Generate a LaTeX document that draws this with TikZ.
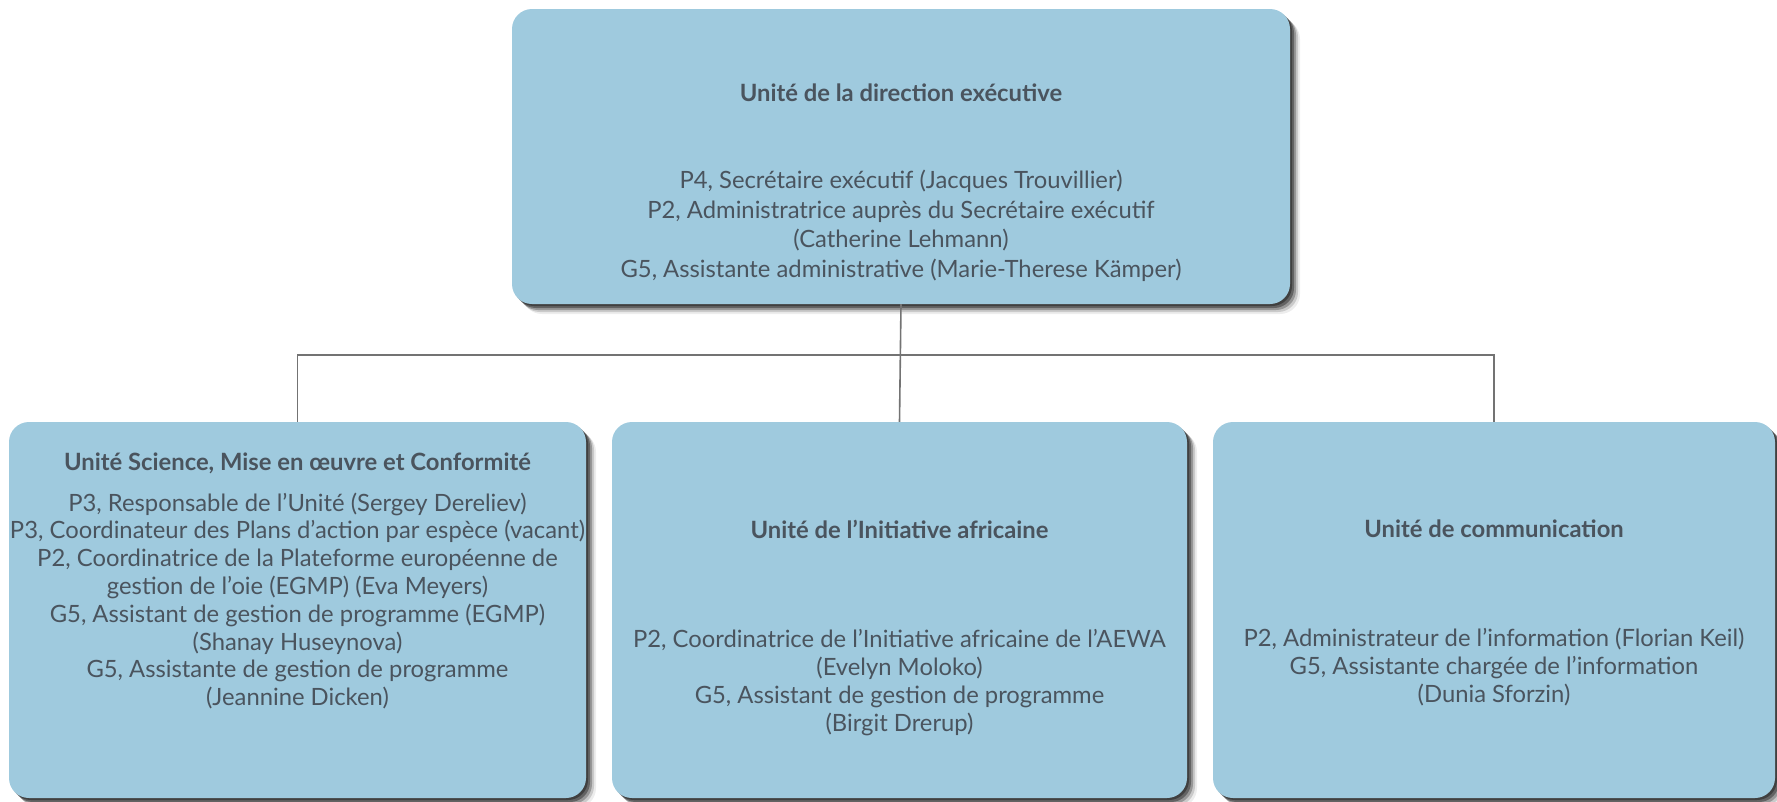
\documentclass[tikz,border=0pt]{standalone}
\usepackage{fontspec}
\setmainfont{Lato}
\usetikzlibrary{shadows}
\definecolor{boxblue}{RGB}{159,202,222}
\definecolor{txtgray}{RGB}{74,84,94}
\definecolor{linegray}{RGB}{115,115,115}
\tikzset{
  box/.style={rectangle, draw=none, fill=boxblue, rounded corners=20pt, inner sep=0pt,
    drop shadow={shadow xshift=2pt, shadow yshift=-2pt, fill=black, opacity=.35},
    drop shadow={shadow xshift=4pt, shadow yshift=-4pt, fill=black, opacity=.35},
    drop shadow={shadow xshift=6pt, shadow yshift=-6pt, fill=black, opacity=.25},
    drop shadow={shadow xshift=8pt, shadow yshift=-8pt, fill=black, opacity=.15},
    drop shadow={shadow xshift=10pt, shadow yshift=-10pt, fill=black, opacity=.07}},
  ttl/.style={font=\fontsize{23.8}{28}\selectfont\bfseries, text=txtgray, inner sep=0pt},
  bodytop/.style={font=\fontsize{23.8}{29.5}\selectfont, text=txtgray, align=center, inner sep=0pt},
  body/.style={font=\fontsize{23.8}{27.8}\selectfont, text=txtgray, align=center, inner sep=0pt},
  conn/.style={draw=linegray, line width=1.6pt}
}
\begin{document}
\begin{tikzpicture}[x=1pt,y=-1pt]
\useasboundingbox (0,0) rectangle (1777,801);
\coordinate (bus) at (0,355);
\node[box, minimum width=778pt, minimum height=295pt] (top) at (901,156.5) {};
\node[box, minimum width=577pt, minimum height=376pt] (left) at (297.5,610) {};
\node[box, minimum width=575pt, minimum height=376pt] (mid) at (899.5,610) {};
\node[box, minimum width=562pt, minimum height=376pt] (right) at (1494,610) {};
\draw[conn] (top.south) -- (mid.north);
\draw[conn] (left.north) -- (left.north |- bus) -- (right.north |- bus) -- (right.north);
% texts
\node[ttl] (toptitle) at (901,93) {Unité de la direction exécutive};
\node[bodytop] (topbody) at (901,226) {P4, Secrétaire exécutif (Jacques Trouvillier)\\
P2, Administratrice auprès du Secrétaire exécutif\\
(Catherine Lehmann)\\
G5, Assistante administrative (Marie-Therese Kämper)};
\node[ttl] (lefttitle) at (297.5,463) {Unité Science, Mise en œuvre et Conformité};
\node[body] (leftbody) at (297.5,601) {P3, Responsable de l’Unité (Sergey Dereliev)\\
P3, Coordinateur des Plans d’action par espèce (vacant)\\
P2, Coordinatrice de la Plateforme européenne de\\
gestion de l’oie (EGMP) (Eva Meyers)\\
G5, Assistant de gestion de programme (EGMP)\\
(Shanay Huseynova)\\
G5, Assistante de gestion de programme\\
(Jeannine Dicken)};
\node[ttl] (midtitle) at (899.5,529) {Unité de l’Initiative africaine};
\node[body] (midbody) at (899.5,682.5) {P2, Coordinatrice de l’Initiative africaine de l’AEWA\\
(Evelyn Moloko)\\
G5, Assistant de gestion de programme\\
(Birgit Drerup)};
\node[ttl] (righttitle) at (1494,529) {Unité de communication};
\node[body] (rightbody) at (1494,667) {P2, Administrateur de l’information (Florian Keil)\\
G5, Assistante chargée de l’information\\
(Dunia Sforzin)};
\end{tikzpicture}
\end{document}
